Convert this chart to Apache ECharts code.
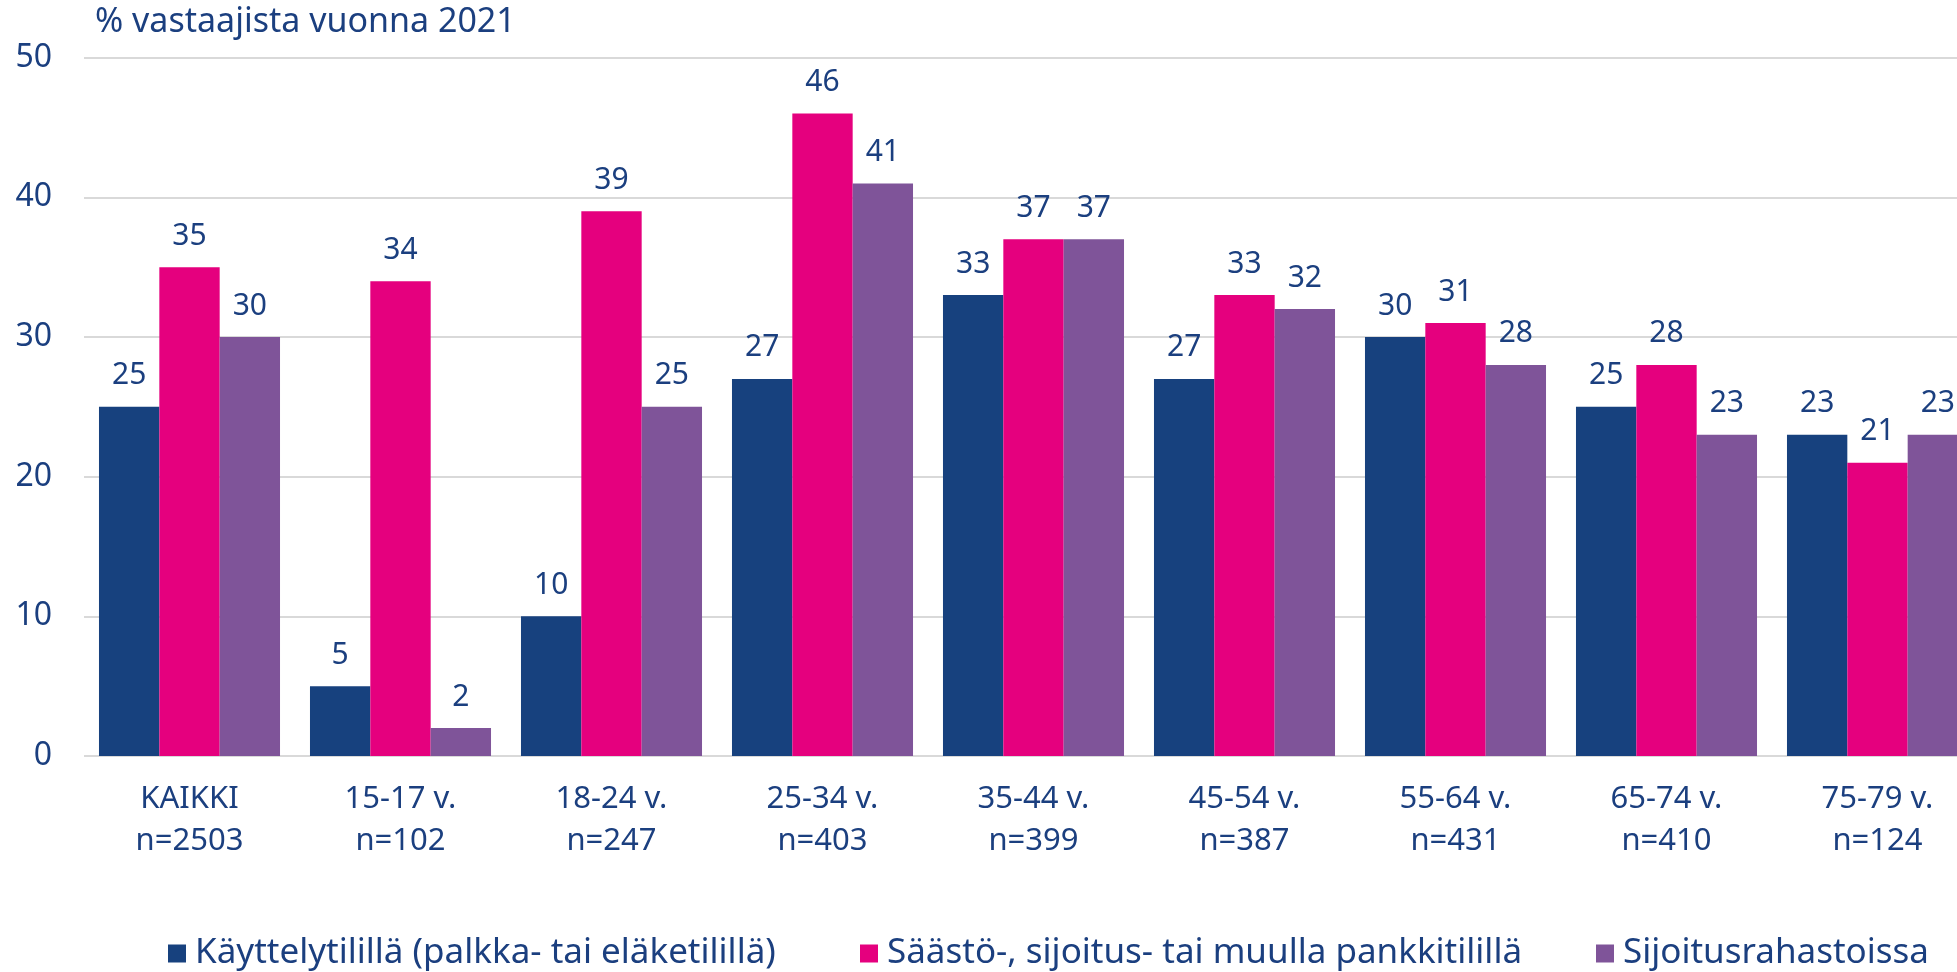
<!DOCTYPE html>
<html>
<head>
<meta charset="utf-8">
<script src="https://cdn.jsdelivr.net/npm/echarts@6/dist/echarts.min.js"></script>
<style>
html,body{margin:0;padding:0;background:#fff;overflow:hidden;width:1957px;height:972px;}
#c{width:1983px;height:972px;}
</style>
</head>
<body>
<div id="c"></div>
<script>
const categories = ['KAIKKI\nn=2503','15-17 v.\nn=102','18-24 v.\nn=247','25-34 v.\nn=403','35-44 v.\nn=399','45-54 v.\nn=387','55-64 v.\nn=431','65-74 v.\nn=410','75-79 v.\nn=124'];
const seriesNames = ['Käyttelytilillä (palkka- tai eläketilillä)','Säästö-, sijoitus- tai muulla pankkitilillä','Sijoitusrahastoissa'];
const kayttelytili = [25,5,10,27,33,27,30,25,23];
const saastotili = [35,34,39,46,37,33,31,28,21];
const rahastot = [30,2,25,41,37,32,28,23,23];
const yTicks = [0,10,20,30,40,50];
const yTitle = '% vastaajista vuonna 2021';

const FONT = 'Noto Sans';
const TXT = '#1b3f7f';
const colors = ['#17417e','#e5007e','#7f5499'];
const data = [kayttelytili, saastotili, rahastot];
const legendLefts = [168, 860, 1596];

const chart = echarts.init(document.getElementById('c'));
chart.setOption({
  animation:false,
  textStyle:{fontFamily:FONT,color:TXT},
  color:colors,
  title:{text:yTitle,left:90,top:0,textStyle:{fontFamily:FONT,fontSize:34,fontWeight:'normal',color:TXT}},
  legend:seriesNames.map((n,i)=>({
    left:legendLefts[i],top:936,padding:0,itemWidth:18,itemHeight:18,icon:'rect',
    textStyle:{fontFamily:FONT,fontSize:35,color:TXT,padding:[0,0,0,4]},
    data:[n]
  })),
  grid:{left:84,top:57.7,right:0,bottom:216,containLabel:false},
  xAxis:{
    type:'category',data:categories,
    axisLine:{show:false},axisTick:{show:false},
    axisLabel:{fontFamily:FONT,fontSize:31,color:TXT,lineHeight:42,margin:22,interval:0}
  },
  yAxis:{
    type:'value',min:yTicks[0],max:yTicks[yTicks.length-1],interval:10,
    axisLine:{show:false},axisTick:{show:false},
    axisLabel:{fontFamily:FONT,fontSize:32,color:TXT,margin:32},
    splitLine:{lineStyle:{color:'#d9d9d9',width:2}}
  },
  series:data.map((d,i)=>({
    name:seriesNames[i],type:'bar',data:d,barGap:'0%',barCategoryGap:'14.2%',
    itemStyle:{color:colors[i]},
    label:{show:true,position:'top',distance:16,fontFamily:FONT,fontSize:30,color:TXT}
  }))
});
</script>
</body>
</html>
